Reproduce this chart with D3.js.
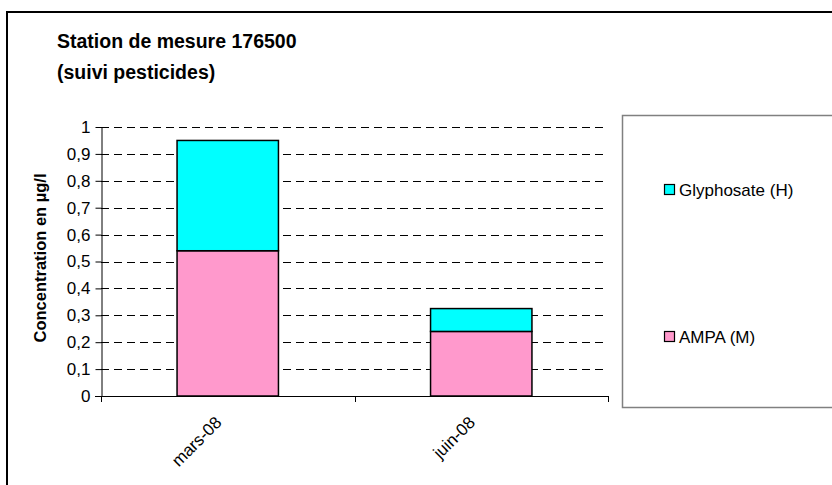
<!DOCTYPE html>
<html><head><meta charset="utf-8">
<script src="https://cdn.jsdelivr.net/npm/d3@7"></script>
<style>body{margin:0;background:#fff;font-family:Arial,"Liberation Sans",sans-serif;}</style>
</head><body>
<svg id="c" width="832" height="485"></svg>
<script>
const categories = ["mars-08", "juin-08"];
const seriesNames = ["AMPA (M)", "Glyphosate (H)"];
const ampa = [0.54, 0.24];
const glyphosate = [0.41, 0.085];
const yTicks = [0,0.1,0.2,0.3,0.4,0.5,0.6,0.7,0.8,0.9,1];
const colors = ["#ff99cc", "#00ffff"];

const svg = d3.select("#c");
const font = 'Arial, "Liberation Sans", sans-serif';
// outer frame
svg.append("rect").attr("x",7).attr("y",12).attr("width",840).attr("height",490)
  .attr("fill","none").attr("stroke","#000").attr("stroke-width",2);

const m = {l:101, r:608, t:127, b:396};
const x = d3.scaleBand().domain(categories).range([m.l, m.r]).paddingInner(0).paddingOuter(0);
const y = d3.scaleLinear().domain([0,1]).range([m.b, m.t]);
const bw = x.bandwidth()*0.4;

// gridlines
svg.append("g").selectAll("line").data(yTicks.filter(d=>d>0)).join("line")
  .attr("x1",m.l).attr("x2",m.r).attr("y1",d=>Math.round(y(d))+0.5).attr("y2",d=>Math.round(y(d))+0.5)
  .attr("stroke","#000").attr("stroke-dasharray","8,5").attr("stroke-width",1);

// stacked bars
const rows = categories.map((c,i)=>({cat:c, "AMPA (M)":ampa[i], "Glyphosate (H)":glyphosate[i]}));
const stack = d3.stack().keys(seriesNames)(rows);
svg.append("g").selectAll("g").data(stack).join("g").attr("fill",(d,i)=>colors[i])
  .selectAll("rect").data(d=>d).join("rect")
  .attr("x",d=>x(d.data.cat)+(x.bandwidth()-bw)/2).attr("width",bw)
  .attr("y",d=>y(d[1])).attr("height",d=>y(d[0])-y(d[1]))
  .attr("stroke","#000").attr("stroke-width",1.5);

// y axis
const ya = svg.append("g").attr("transform",`translate(${m.l+0.5},0)`)
  .call(d3.axisLeft(y).tickValues(yTicks).tickSize(6).tickSizeOuter(0).tickPadding(5)
    .tickFormat(d=>d3.format("~g")(d).replace(".",",")));
ya.select(".domain").attr("stroke","#000");
ya.selectAll("text").attr("font-family",font).attr("font-size",17).attr("fill","#000");

// x axis
const xa = svg.append("g").attr("transform",`translate(0,${m.b+0.5})`)
  .call(d3.axisBottom(x).tickSize(0).tickSizeOuter(0));
xa.select(".domain").attr("stroke","#000").attr("d",`M${m.l-6},0H${m.r}`);
xa.selectAll(".tick line").remove();
xa.selectAll("text").attr("font-family",font).attr("font-size",17).attr("fill","#000")
  .attr("text-anchor","end").attr("transform","translate(-5,27) rotate(-45)").attr("dy",0).attr("y",0).attr("x",0);
const bounds = [m.l, ...categories.slice(1).map(c=>x(c)), m.r];
svg.append("g").selectAll("line").data(bounds).join("line")
  .attr("x1",d=>Math.round(d)+0.5).attr("x2",d=>Math.round(d)+0.5).attr("y1",m.b).attr("y2",m.b+6).attr("stroke","#000");

// y title
svg.append("text").attr("transform",`translate(46,258) rotate(-90)`)
  .attr("text-anchor","middle").attr("font-family",font).attr("font-size",16.5).attr("font-weight","bold")
  .text("Concentration en µg/l");

// title
const t = svg.append("text").attr("font-family",font).attr("font-size",19.5).attr("font-weight","bold");
t.append("tspan").attr("x",57).attr("y",48).text("Station de mesure 176500");
t.append("tspan").attr("x",57).attr("y",79).text("(suivi pesticides)");

// legend
svg.append("rect").attr("x",622.5).attr("y",115.5).attr("width",230).attr("height",292)
  .attr("fill","#fff").attr("stroke","#808080").attr("stroke-width",1.5);
const legItems = [{name:"Glyphosate (H)", color:colors[1], y:190},{name:"AMPA (M)", color:colors[0], y:337}];
const lg = svg.append("g").selectAll("g").data(legItems).join("g").attr("transform",d=>`translate(664,${d.y})`);
lg.append("rect").attr("x",0.5).attr("y",-5.5).attr("width",10).attr("height",10).attr("fill",d=>d.color).attr("stroke","#000").attr("stroke-width",1.2);
lg.append("text").attr("x",15).attr("y",0).attr("dy","0.35em").attr("font-family",font).attr("font-size",17).text(d=>d.name);
</script>
</body></html>
